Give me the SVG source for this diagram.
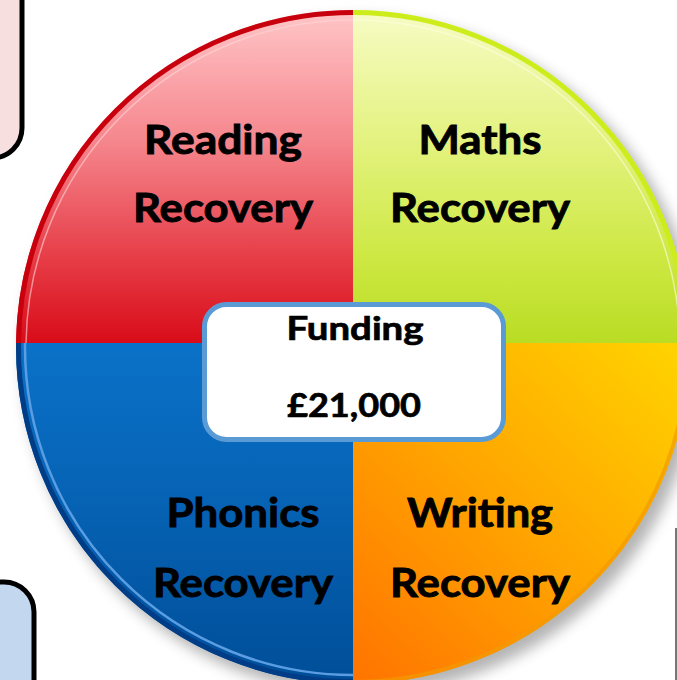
<svg xmlns="http://www.w3.org/2000/svg" width="677" height="680" viewBox="0 0 677 680">
<style>
.lbl{font-family:Lato,"Liberation Sans",sans-serif;font-weight:700;font-size:41px;fill:#000;stroke:#000;stroke-width:0.9;text-anchor:middle}
.fund{font-size:32px;stroke-width:0.7}
.box{stroke:#000;stroke-width:5}
</style>
<defs>
<filter id="blur" x="-20%" y="-20%" width="140%" height="140%"><feGaussianBlur stdDeviation="7"/></filter>
<clipPath id="qTL"><rect x="0" y="0" width="353" height="343"/></clipPath>
<clipPath id="qTR"><rect x="353" y="0" width="340" height="343"/></clipPath>
<clipPath id="qBL"><rect x="0" y="343" width="353" height="350"/></clipPath>
<clipPath id="qBR"><rect x="353" y="343" width="340" height="350"/></clipPath>
<linearGradient id="gRed" x1="0" y1="10" x2="0" y2="343" gradientUnits="userSpaceOnUse">
<stop offset="0" stop-color="#ffc6c8"/><stop offset="0.4" stop-color="#f5858c"/><stop offset="0.75" stop-color="#e63c46"/><stop offset="1" stop-color="#d80c18"/>
</linearGradient>
<linearGradient id="gGreen" x1="0" y1="10" x2="0" y2="343" gradientUnits="userSpaceOnUse">
<stop offset="0" stop-color="#f7fcc6"/><stop offset="0.4" stop-color="#e3f27e"/><stop offset="0.75" stop-color="#cde842"/><stop offset="1" stop-color="#b9dc24"/>
</linearGradient>
<linearGradient id="gBlue" x1="0" y1="343" x2="0" y2="684" gradientUnits="userSpaceOnUse">
<stop offset="0" stop-color="#0a72c8"/><stop offset="0.5" stop-color="#0661b2"/><stop offset="1" stop-color="#004e98"/>
</linearGradient>
<linearGradient id="gOrange" x1="680" y1="343" x2="360" y2="684" gradientUnits="userSpaceOnUse">
<stop offset="0" stop-color="#ffd400"/><stop offset="0.5" stop-color="#ffa600"/><stop offset="1" stop-color="#ff7400"/>
</linearGradient>
</defs>

<rect width="677" height="680" fill="#fff"/>

<g id="box-top-left">
<rect class="box" x="-40" y="-40" width="62" height="198" rx="30" fill="#f7dfe0"/>
</g>
<g id="box-bottom-left">
<rect class="box" x="-40" y="582" width="74" height="140" rx="30" fill="#c3d8ee"/>
</g>
<g id="box-right">
<rect x="676" y="529" width="40" height="200" fill="#fff" stroke="#777" stroke-width="2"/>
</g>

<circle cx="361" cy="356" r="338" fill="#777" opacity="0.55" filter="url(#blur)"/>

<g id="reading">
<g clip-path="url(#qTL)">
<circle cx="353" cy="347" r="337" fill="url(#gRed)"/>
<circle cx="353" cy="347" r="327" fill="none" stroke="#ffd6d8" stroke-width="1.5" opacity="0.6"/>
<circle cx="353" cy="347" r="334.5" fill="none" stroke="#c8000e" stroke-width="5"/>
</g>
<text class="lbl" x="223" y="154" textLength="158" lengthAdjust="spacingAndGlyphs">Reading</text>
<text class="lbl" x="223" y="222" textLength="180" lengthAdjust="spacingAndGlyphs">Recovery</text>
</g>

<g id="maths">
<g clip-path="url(#qTR)">
<circle cx="353" cy="347" r="337" fill="url(#gGreen)"/>
<circle cx="353" cy="347" r="327" fill="none" stroke="#fbffe0" stroke-width="1.5" opacity="0.6"/>
<circle cx="353" cy="347" r="334.5" fill="none" stroke="#cdec1c" stroke-width="5"/>
</g>
<text class="lbl" x="480" y="154" textLength="123" lengthAdjust="spacingAndGlyphs">Maths</text>
<text class="lbl" x="480" y="222" textLength="180" lengthAdjust="spacingAndGlyphs">Recovery</text>
</g>

<g id="phonics">
<g clip-path="url(#qBL)">
<circle cx="353" cy="347" r="337" fill="url(#gBlue)"/>
<circle cx="353" cy="347" r="334.5" fill="none" stroke="#003d86" stroke-width="5"/>
<circle cx="353" cy="347" r="328" fill="none" stroke="#5a9de2" stroke-width="2.5"/>
</g>
<text class="lbl" x="243" y="527" textLength="153" lengthAdjust="spacingAndGlyphs">Phonics</text>
<text class="lbl" x="243" y="597" textLength="180" lengthAdjust="spacingAndGlyphs">Recovery</text>
</g>

<g id="writing">
<g clip-path="url(#qBR)">
<circle cx="353" cy="347" r="337" fill="url(#gOrange)"/>
<circle cx="353" cy="347" r="335" fill="none" stroke="#f29a00" stroke-width="4" opacity="0.7"/>
</g>
<text class="lbl" x="480" y="527" textLength="146" lengthAdjust="spacingAndGlyphs">Writing</text>
<text class="lbl" x="480" y="597" textLength="180" lengthAdjust="spacingAndGlyphs">Recovery</text>
</g>

<g id="funding">
<rect x="204.5" y="304.5" width="299" height="135" rx="22" fill="#fff" stroke="#5b9bd5" stroke-width="5"/>
<text class="lbl fund" x="355" y="340" textLength="137" lengthAdjust="spacingAndGlyphs">Funding</text>
<text class="lbl fund" x="354" y="417" textLength="134" lengthAdjust="spacingAndGlyphs">£21,000</text>
</g>
</svg>
